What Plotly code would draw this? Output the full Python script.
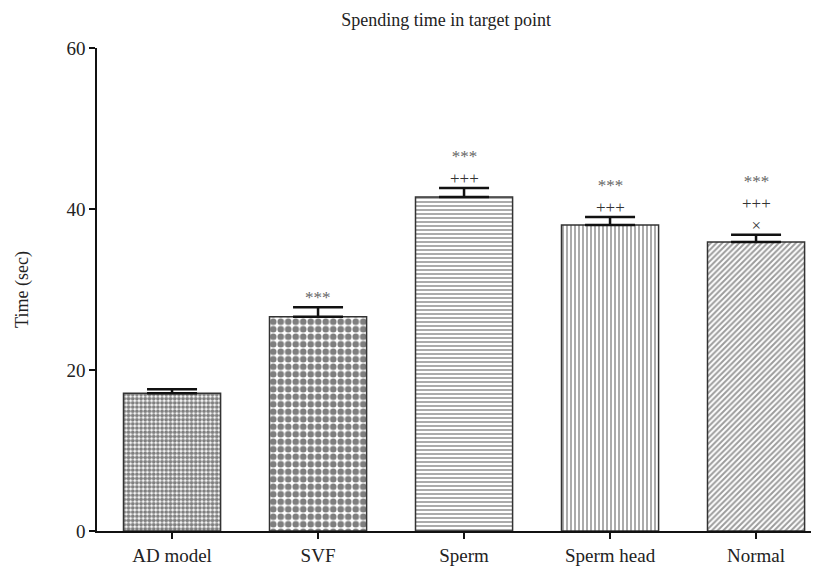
import plotly.graph_objects as go

# ------------------------------
# data
groups = ['AD model', 'SVF', 'Sperm', 'Sperm head', 'Normal']
mean_time = [17.1, 26.6, 41.5, 38.0, 35.9]
sem_time = [0.5, 1.2, 1.1, 1.0, 0.9]
# significance marks, listed top-down
sig_marks = [[], ['***'], ['***', '+++'], ['***', '+++'], ['***', '+++', '×']]

# fill patterns, one per group
pat_shape = ['.', '.', '-', '|', '/']
pat_size = [4.2, 7.5, 4, 4, 4]
pat_solid = [0.65, 0.62, 0.45, 0.45, 0.5]
pat_color = ['#000000', '#000000', '#444444', '#444444', '#3a3a3a']
# ------------------------------

fig = go.Figure()

fig.add_trace(go.Bar(
    x=groups, y=mean_time,
    marker=dict(
        color='white',
        line=dict(color='#333333', width=1.5),
        pattern=dict(shape=pat_shape, size=pat_size, solidity=pat_solid,
                     fgcolor=pat_color, bgcolor='white', fillmode='overlay'),
    ),
    error_y=dict(type='data', array=sem_time, symmetric=False, arrayminus=[0] * 5,
                 color='#111111', thickness=2.5, width=25),
    showlegend=False,
))

for g, m, s, lines in zip(groups, mean_time, sem_time, sig_marks):
    if not lines:
        continue
    txt = '<br>'.join(
        "<span style='color:%s'>%s</span>" % ('#666666' if t == '***' else '#333333', t)
        for t in lines)
    fig.add_annotation(x=g, y=m + s, text=txt, showarrow=False, yanchor='bottom',
                       yshift=-2, font=dict(family='Liberation Serif', size=17))

fig.update_layout(
    width=819, height=575,
    margin=dict(l=89, r=0, t=40, b=52),
    plot_bgcolor='white', paper_bgcolor='white',
    bargap=0.335,
    font=dict(family='Liberation Serif', size=19, color='#222222'),
    title=dict(text='Spending time in target point', x=0.535, xanchor='center', y=0.991,
               yanchor='top', font=dict(size=18)),
)
fig.update_xaxes(range=[-0.514, 4.486], showline=True, linecolor='#111111', linewidth=1.5,
                 ticks='outside', ticklen=6, tickwidth=2, tickcolor='#111111', showgrid=False)
fig.update_yaxes(range=[0, 60], tickvals=[0, 20, 40, 60], showline=True, linecolor='#111111',
                 linewidth=1.5, ticks='outside', ticklen=6, tickwidth=2, tickcolor='#111111',
                 showgrid=False, zeroline=False,
                 title=dict(text='Time (sec)', standoff=33, font=dict(size=18)))

fig.write_html("out.html")
